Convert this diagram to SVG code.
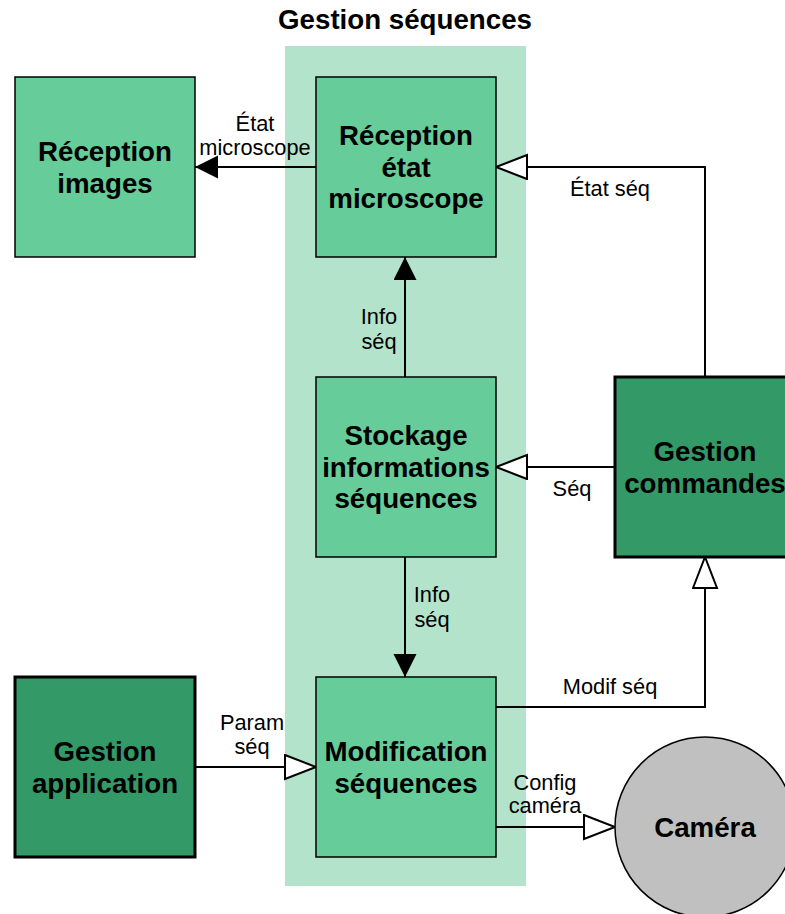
<svg xmlns="http://www.w3.org/2000/svg" width="785" height="914" viewBox="0 0 785 914">
<style>
.n{fill:#66cc99;stroke:#000;stroke-width:1.5}
.d{fill:#339966;stroke:#000;stroke-width:3}
.t{font-family:"Liberation Sans",Arial,sans-serif;font-weight:bold;font-size:27.7px;text-anchor:middle;fill:#000}
.l{font-family:"Liberation Sans",Arial,sans-serif;font-size:21.8px;text-anchor:middle;fill:#000}
.c{fill:none;stroke:#000;stroke-width:2}
</style>
<defs>
<marker id="fa" markerUnits="userSpaceOnUse" markerWidth="26" markerHeight="26" refX="23" refY="11.5" orient="auto" viewBox="0 0 26 26">
<path d="M0,0 L23,11.5 L0,23 Z" fill="#000"/>
</marker>
<marker id="oa" markerUnits="userSpaceOnUse" markerWidth="36" markerHeight="30" refX="32" refY="13" orient="auto" viewBox="0 0 36 30">
<path d="M1,1 L32,13 L1,25 Z" fill="#fff" stroke="#000" stroke-width="2"/>
</marker>
</defs>
<rect x="0" y="0" width="785" height="914" fill="#fff"/>
<g id="container">
<rect x="285" y="46" width="241" height="840" fill="#b3e3cb"/>
<text class="t" x="405" y="29">Gestion séquences</text>
</g>
<g id="connectors">
<path class="c" d="M316,167 H195" marker-end="url(#fa)"/>
<text class="l" x="255" y="131">État</text>
<text class="l" x="255" y="155">microscope</text>
<path class="c" d="M705,377 V167 H496" marker-end="url(#oa)"/>
<text class="l" x="610" y="196">État séq</text>
<path class="c" d="M405,377 V257" marker-end="url(#fa)"/>
<text class="l" x="379" y="324">Info</text>
<text class="l" x="379" y="349">séq</text>
<path class="c" d="M615,467 H496" marker-end="url(#oa)"/>
<text class="l" x="572" y="496">Séq</text>
<path class="c" d="M405,557 V677" marker-end="url(#fa)"/>
<text class="l" x="432" y="602">Info</text>
<text class="l" x="432" y="627">séq</text>
<path class="c" d="M496,707 H705 V557" marker-end="url(#oa)"/>
<text class="l" x="610" y="694">Modif séq</text>
<path class="c" d="M195,767 H316" marker-end="url(#oa)"/>
<text class="l" x="252" y="730">Param</text>
<text class="l" x="252" y="754">séq</text>
<path class="c" d="M496,827 H615" marker-end="url(#oa)"/>
<text class="l" x="545" y="790">Config</text>
<text class="l" x="545" y="813">caméra</text>
</g>
<g id="reception-images">
<rect class="n" x="15" y="77" width="180" height="180"/>
<text class="t" x="105" y="161">Réception</text>
<text class="t" x="105" y="192.5">images</text>
</g>
<g id="reception-etat">
<rect class="n" x="316" y="77" width="180" height="180"/>
<text class="t" x="406" y="145">Réception</text>
<text class="t" x="406" y="177">état</text>
<text class="t" x="406" y="208">microscope</text>
</g>
<g id="stockage">
<rect class="n" x="316" y="377" width="180" height="180"/>
<text class="t" x="406" y="445">Stockage</text>
<text class="t" x="406" y="477">informations</text>
<text class="t" x="406" y="508">séquences</text>
</g>
<g id="modification">
<rect class="n" x="316" y="677" width="180" height="180"/>
<text class="t" x="406" y="761">Modification</text>
<text class="t" x="406" y="793">séquences</text>
</g>
<g id="gestion-commandes">
<rect class="d" x="615" y="377" width="180" height="180"/>
<text class="t" x="705" y="461">Gestion</text>
<text class="t" x="705" y="493">commandes</text>
</g>
<g id="gestion-application">
<rect class="d" x="15" y="677" width="180" height="180"/>
<text class="t" x="105" y="761">Gestion</text>
<text class="t" x="105" y="793">application</text>
</g>
<g id="camera">
<circle cx="705" cy="827" r="90" fill="#c0c0c0" stroke="#000" stroke-width="1.5"/>
<text class="t" x="705" y="837">Caméra</text>
</g>
</svg>
